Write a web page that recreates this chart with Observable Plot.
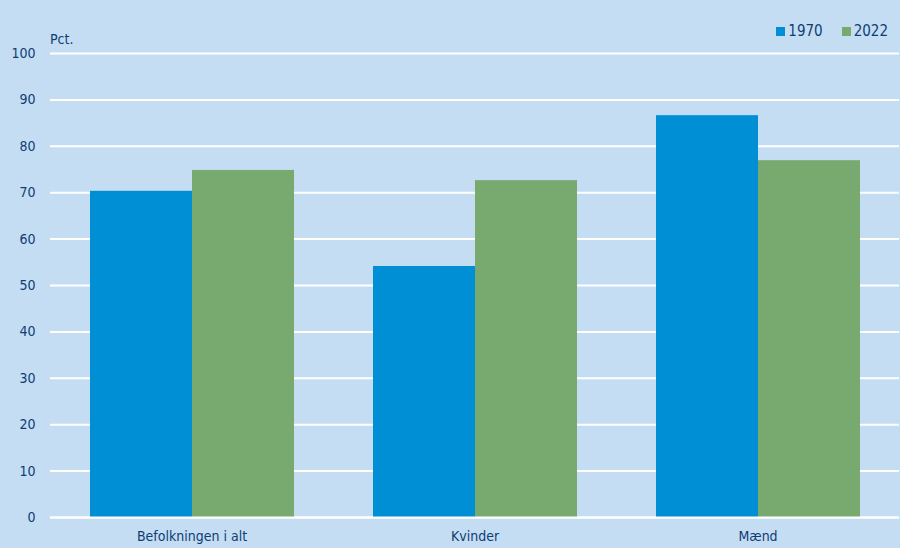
<!DOCTYPE html>
<html><head><meta charset="utf-8">
<script src="https://cdn.jsdelivr.net/npm/d3@7"></script>
<script src="https://cdn.jsdelivr.net/npm/@observablehq/plot@0.6"></script>
<style>
body{margin:0;background:#c4ddf2;}
#wrap{position:relative;width:900px;height:548px;background:#c4ddf2;font-family:"Liberation Sans Narrow","DejaVu Sans Condensed","Liberation Sans",sans-serif;color:#0e3d75;overflow:hidden;}
#unit{position:absolute;left:50px;top:31px;font-size:14px;}
#legend{position:absolute;right:12px;top:22px;font-size:15px;display:flex;gap:19px;}
#legend span.item{display:flex;align-items:center;gap:3px;}
#legend span.sw{display:inline-block;width:9px;height:9px;}
</style></head>
<body>
<div id="wrap"><div id="unit">Pct.</div><div id="legend"></div></div>
<script>
const categories = ["Befolkningen i alt", "Kvinder", "Mænd"];
const years = ["1970", "2022"];
const values1970 = [70.3, 54.1, 86.6];
const values2022 = [74.8, 72.6, 76.9];
const yTicks = [0, 10, 20, 30, 40, 50, 60, 70, 80, 90, 100];
const colors = ["#008fd5", "#78aa6f"];

const data = categories.flatMap((c, i) => [
  {cat: c, year: years[0], value: values1970[i]},
  {cat: c, year: years[1], value: values2022[i]}
]);

const fontFamily = '"Liberation Sans Narrow","DejaVu Sans Condensed","Liberation Sans",sans-serif';
const chart = Plot.plot({
  width: 900, height: 548,
  marginLeft: 49, marginRight: 0, marginTop: 53, marginBottom: 31,
  style: {background: "transparent", fontFamily, fontSize: "14px", color: "#0e3d75"},
  fx: {domain: categories, padding: 0, label: null},
  x: {domain: years, paddingInner: 0, paddingOuter: 0.38, axis: null},
  y: {domain: [0, 100], label: null},
  color: {domain: years, range: colors},
  marks: [
    Plot.gridY(yTicks, {stroke: "white", strokeOpacity: 1, strokeWidth: 2}),
    Plot.axisY(yTicks, {tickSize: 0, tickPadding: 15, label: null, fontSize: 14}),
    Plot.barY(data, {fx: "cat", x: "year", y: "value", fill: "year"}),
    Plot.ruleY([0], {stroke: "white", strokeWidth: 2}),
    Plot.axisFx({tickSize: 0, tickPadding: 14, label: null, anchor: "bottom", fontSize: 14})
  ]
});
document.getElementById("wrap").appendChild(chart);
chart.style.position = "absolute"; chart.style.left = "0"; chart.style.top = "0";

const legend = document.getElementById("legend");
years.forEach((y, i) => {
  const item = document.createElement("span");
  item.className = "item";
  item.innerHTML = `<span class="sw" style="background:${colors[i]}"></span>${y}`;
  legend.appendChild(item);
});
</script>
</body></html>
